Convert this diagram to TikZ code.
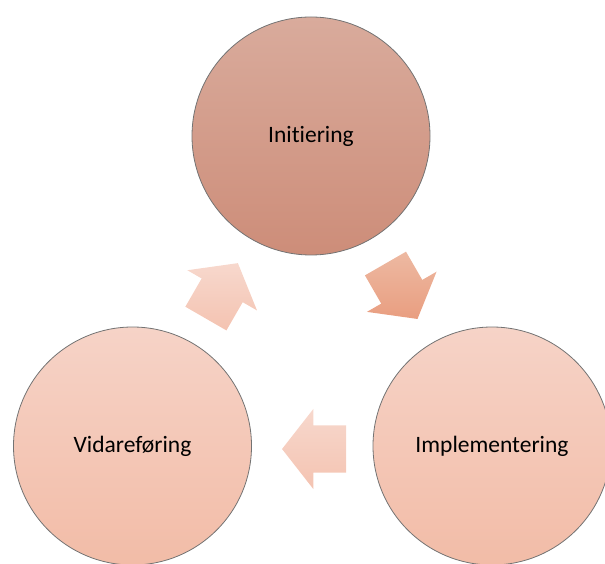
\documentclass[tikz,border=0pt]{standalone}
\usepackage{fontspec}
\setmainfont{Carlito}[Ligatures=NoCommon]
\usetikzlibrary{shapes.arrows, calc}
\definecolor{initTop}{RGB}{217,171,156}
\definecolor{initBot}{RGB}{205,141,121}
\definecolor{paleTop}{RGB}{246,211,199}
\definecolor{paleBot}{RGB}{242,188,167}
\definecolor{flowTop}{RGB}{237,185,162}
\definecolor{flowBot}{RGB}{233,158,128}
\definecolor{softTop}{RGB}{247,216,205}
\definecolor{softBot}{RGB}{244,195,177}
\tikzset{
  phase/.style={circle, draw=black!55, line width=0.8pt, minimum size=238pt,
    inner sep=0pt, font=\fontsize{23.5}{28}\selectfont},
  flow/.style={single arrow, draw=none, anchor=tail, inner sep=0pt, inner ysep=23.5pt,
    single arrow head extend=16.5pt, single arrow tip angle=104, minimum height=64pt},
}

\begin{document}
\begin{tikzpicture}[x=1pt, y=1pt]
  \clip (0,0) rectangle (605,563);

  % phases
  \node[phase, top color=initTop, bottom color=initBot] (init) at (311,427) {Initiering};
  \node[phase, top color=paleTop, bottom color=paleBot] (impl) at (492,117) {Implementering};
  \node[phase, top color=paleTop, bottom color=paleBot] (vidare) at (132.5,117) {Vidareføring};

  % flow arrows
  \node[flow, rotate=-60, top color=flowTop, bottom color=flowBot]
    (f1) at ($($(init)!0.5!(impl)$)!32pt!(init)$) {};
  \node[flow, rotate=180, top color=softTop, bottom color=softBot]
    (f2) at ($($(impl)!0.5!(vidare)$)!32pt!(impl) + (2,-3)$) {};
  \node[flow, rotate=60, top color=softTop, bottom color=softBot]
    (f3) at ($($(vidare)!0.5!(init)$)!32pt!(vidare)$) {};
\end{tikzpicture}
\end{document}
